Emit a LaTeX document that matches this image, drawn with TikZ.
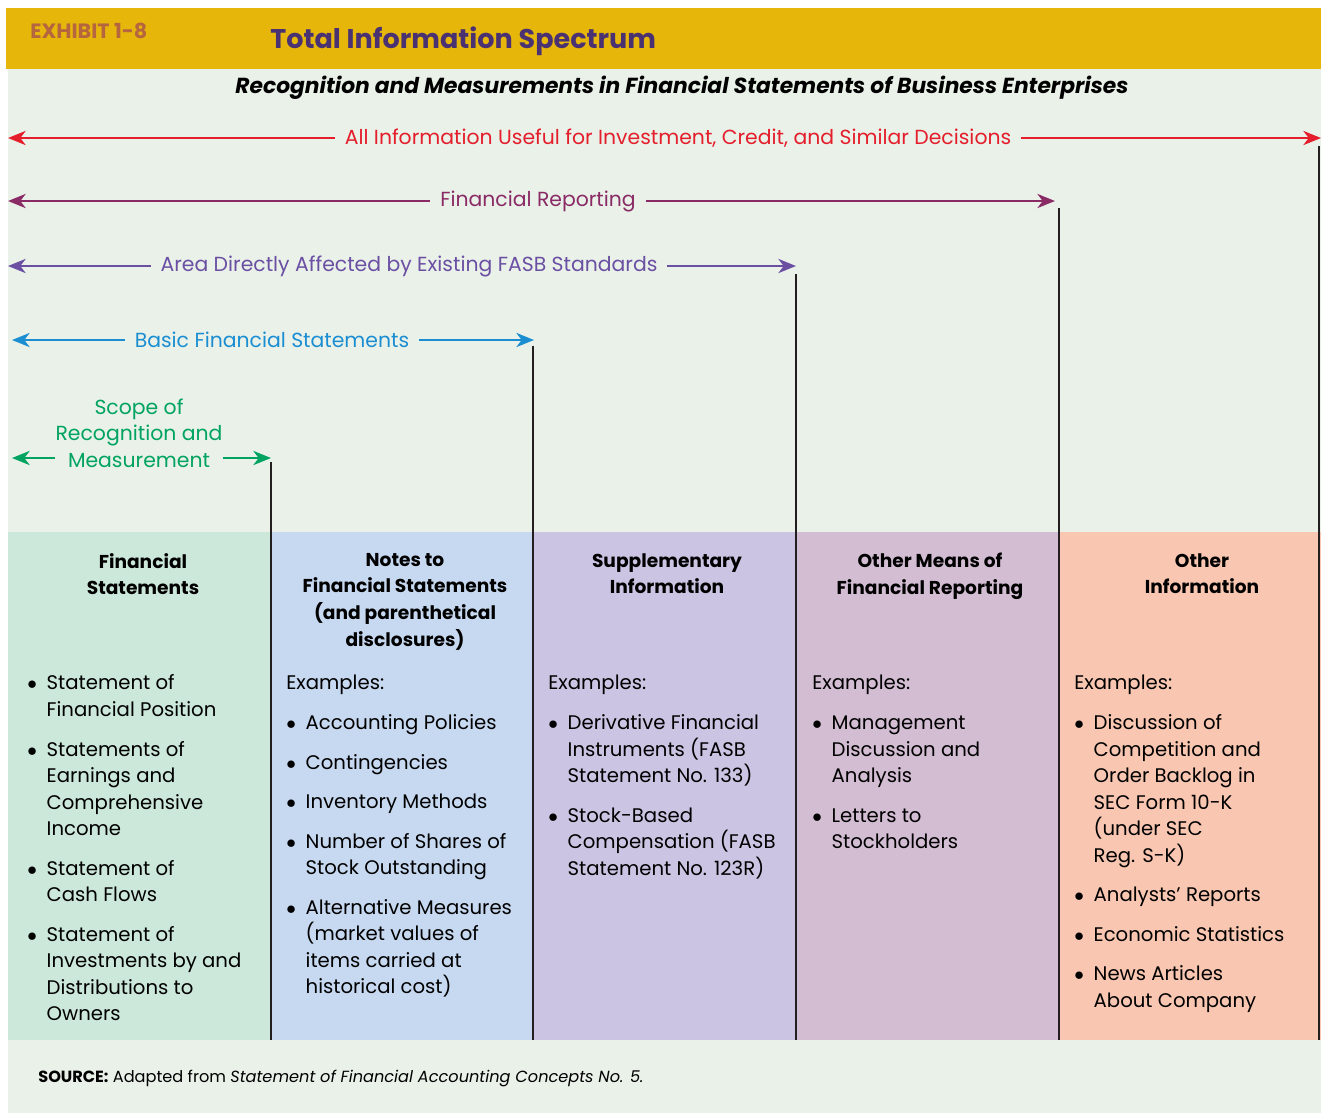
\documentclass[tikz,border=0pt]{standalone}
\usepackage{fontspec}
\setmainfont{Poppins}
\usetikzlibrary{positioning,arrows.meta}

\definecolor{bggreen}{HTML}{E9F1E9}
\definecolor{bandyellow}{HTML}{E6B70A}
\definecolor{exhibitbrown}{HTML}{B5663F}
\definecolor{titlepurple}{HTML}{4A3272}
\definecolor{colA}{HTML}{CCE8DA}
\definecolor{colB}{HTML}{C7D9F1}
\definecolor{colC}{HTML}{CBC4E3}
\definecolor{colD}{HTML}{D3BDD3}
\definecolor{colE}{HTML}{F9C7B1}
\definecolor{spanred}{HTML}{E41E2B}
\definecolor{spanmaroon}{HTML}{8A2B66}
\definecolor{spanviolet}{HTML}{6B4FA3}
\definecolor{spanblue}{HTML}{1B8ED2}
\definecolor{spangreen}{HTML}{00A35F}
\definecolor{rulegray}{HTML}{231F20}

\begin{document}
\begin{tikzpicture}[x=0.02cm, y=-0.02cm,
						% Define styles for the spans and the columns
						span arrow/.style={line width=1.5pt, -{Stealth[length=10pt, width=8pt, inset=3pt]}},
						span label/.style={inner xsep=5.5pt, inner ysep=0pt, font=\fontsize{11.6}{15.1}\selectfont},
						col head/.style={anchor=north, align=center, inner sep=0pt, font=\bfseries\fontsize{10.6}{15.1}\selectfont},
						col body/.style={anchor=north west, inner sep=0pt, font=\fontsize{11.2}{15.1}\selectfont},
						divider/.style={line width=1.1pt, draw=rulegray}
						]
						
						% Page, title band and background
						\useasboundingbox (0,0) rectangle (1321,1113);
						\fill[white] (0,0) rectangle (1321,1113);
						\fill[bggreen] (8,69) rectangle (1321,1113);
						\fill[bandyellow] (6,8) rectangle (1321,69);
						\node[anchor=west, inner sep=0pt, text=exhibitbrown, font=\bfseries\fontsize{11.8}{14}\selectfont] (exhibit) at (30,31) {EXHIBIT 1-8};
						\node[anchor=west, inner sep=0pt, text=titlepurple, font=\bfseries\fontsize{15.4}{18}\selectfont] (title) at (270,41) {Total Information Spectrum};
						\node[inner sep=0pt, font=\bfseries\itshape\fontsize{12.4}{14}\selectfont] (subtitle) at (682,88) {Recognition and Measurements in Financial Statements of Business Enterprises};
						
						% Column backgrounds
						\foreach \xa/\xb/\c in {8/271/colA, 271/533/colB, 533/796/colC, 796/1059/colD, 1059/1321/colE}
						\fill[\c] (\xa,532) rectangle (\xb,1040);
						
						% Column dividers
						\foreach \x/\ytop in {271/462, 533/346, 796/274, 1059/208, 1319/146}
						\draw[divider] (\x,\ytop) -- (\x,1040);
						
						% Span end points
						\coordinate (allL) at (8,138);   \coordinate (allR) at (1321,138);
						\coordinate (repL) at (8,201);   \coordinate (repR) at (1055,201);
						\coordinate (fasbL) at (8,266);  \coordinate (fasbR) at (796,266);
						\coordinate (basicL) at (12,340); \coordinate (basicR) at (534,340);
						\coordinate (scopeL) at (12,458); \coordinate (scopeR) at (271,458);
						
						% Span labels
						\node[span label, text=spanred] (all) at (678,138) {All Information Useful for Investment, Credit, and Similar Decisions};
						\node[span label, text=spanmaroon] (rep) at (538,201) {Financial Reporting};
						\node[span label, text=spanviolet] (fasb) at (409,266) {Area Directly Affected by Existing FASB Standards};
						\node[span label, text=spanblue] (basic) at (272,340) {Basic Financial Statements};
						\node[span label, text=spangreen, align=center, inner xsep=0pt] (scope) at (139,433) {Scope of\\Recognition and\\Measurement};
						
						% --- Draw the spans ---
						\draw[span arrow, spanred] (all.west) -- (allL);
						\draw[span arrow, spanred] (all.east) -- (allR);
						\draw[span arrow, spanmaroon] (rep.west) -- (repL);
						\draw[span arrow, spanmaroon] (rep.east) -- (repR);
						\draw[span arrow, spanviolet] (fasb.west) -- (fasbL);
						\draw[span arrow, spanviolet] (fasb.east) -- (fasbR);
						\draw[span arrow, spanblue] (basic.west) -- (basicL);
						\draw[span arrow, spanblue] (basic.east) -- (basicR);
						\draw[span arrow, spangreen] (scope.west |- scopeL) -- (scopeL);
						\draw[span arrow, spangreen] (scope.east |- scopeR) -- (scopeR);
						
						% Column headings
						\node[col head] (headA) at (143,553) {Financial\\Statements};
						\node[col head] (headB) at (405,553) {Notes to\\Financial Statements\\(and parenthetical\\disclosures)};
						\node[col head] (headC) at (667,553) {Supplementary\\Information};
						\node[col head] (headD) at (930,553) {Other Means of\\Financial Reporting};
						\node[col head] (headE) at (1202,553) {Other\\Information};
						
						% Column contents
						\node[col body] (bodyA) at (27,671) {\begin{tabular}{@{}p{11pt}@{}l@{}}
								$\bullet$ & Statement of\\ & Financial Position\\[7.4pt]
								$\bullet$ & Statements of\\ & Earnings and\\ & Comprehensive\\ & Income\\[7.4pt]
								$\bullet$ & Statement of\\ & Cash Flows\\[7.4pt]
								$\bullet$ & Statement of\\ & Investments by and\\ & Distributions to\\ & Owners
							\end{tabular}};
						\node[col body] (bodyB) at (286,671) {\begin{tabular}{@{}p{11pt}@{}l@{}}
								\multicolumn{2}{@{}l@{}}{Examples:}\\[7.4pt]
								$\bullet$ & Accounting Policies\\[7.4pt]
								$\bullet$ & Contingencies\\[7.4pt]
								$\bullet$ & Inventory Methods\\[7.4pt]
								$\bullet$ & Number of Shares of\\ & Stock Outstanding\\[7.4pt]
								$\bullet$ & Alternative Measures\\ & (market values of\\ & items carried at\\ & historical cost)
							\end{tabular}};
						\node[col body] (bodyC) at (548,671) {\begin{tabular}{@{}p{11pt}@{}l@{}}
								\multicolumn{2}{@{}l@{}}{Examples:}\\[7.4pt]
								$\bullet$ & Derivative Financial\\ & Instruments (FASB\\ & Statement No. 133)\\[7.4pt]
								$\bullet$ & Stock-Based\\ & Compensation (FASB\\ & Statement No. 123R)
							\end{tabular}};
						\node[col body] (bodyD) at (812,671) {\begin{tabular}{@{}p{11pt}@{}l@{}}
								\multicolumn{2}{@{}l@{}}{Examples:}\\[7.4pt]
								$\bullet$ & Management\\ & Discussion and\\ & Analysis\\[7.4pt]
								$\bullet$ & Letters to\\ & Stockholders
							\end{tabular}};
						\node[col body] (bodyE) at (1074,671) {\begin{tabular}{@{}p{11pt}@{}l@{}}
								\multicolumn{2}{@{}l@{}}{Examples:}\\[7.4pt]
								$\bullet$ & Discussion of\\ & Competition and\\ & Order Backlog in\\ & SEC Form 10-K\\ & (under SEC\\ & Reg. S-K)\\[7.4pt]
								$\bullet$ & Analysts’ Reports\\[7.4pt]
								$\bullet$ & Economic Statistics\\[7.4pt]
								$\bullet$ & News Articles\\ & About Company
							\end{tabular}};
						
						% Source line
						\node[anchor=west, inner sep=0pt, font=\fontsize{9.2}{12}\selectfont] (source) at (38,1078) {\textbf{SOURCE:} Adapted from \textit{Statement of Financial Accounting Concepts No. 5.}};
					\end{tikzpicture}
\end{document}
